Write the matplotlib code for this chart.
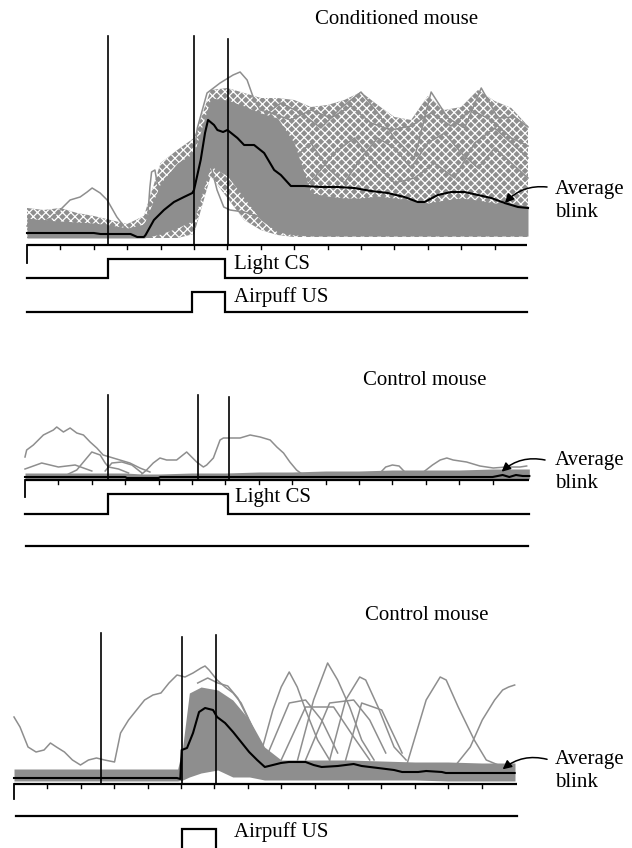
import matplotlib
matplotlib.use('Agg')
import matplotlib.pyplot as plt

W, H = 632, 848
PX = 33.4           # pixels per time bin
GRAY = '#8e8e8e'

plt.rcParams['font.family'] = ['Liberation Serif', 'DejaVu Serif']
plt.rcParams['font.size'] = 15
plt.rcParams['hatch.linewidth'] = 0.9

# ---------------- conditioned mouse ----------------
c_grid = [0, 0.5, 1, 1.5, 2, 2.5, 3, 3.5, 4, 4.5, 5, 5.5, 6, 6.5, 7, 7.5,
          8, 8.5, 9, 9.5, 10, 10.5, 11, 11.5, 12, 12.5, 13, 13.5, 14, 14.5, 15]
c_env_lo = [0, 0, 0, 0, 0, 0, 0, 0, 0, 0, 4, 62, 40, 18, 8, 3,
            1, 1, 1, 1, 1, 1, 1, 1, 1, 1, 1, 1, 1, 1, 1]
c_env_hi = [30, 28, 30, 25, 22, 18, 14, 22, 75, 88, 100, 148, 150, 145, 140, 140,
            138, 131, 133, 138, 146, 133, 121, 118, 142, 128, 131, 148, 137, 130, 112]
c_core_lo = [0, 0, 0, 0, 0, 0, 0, 0, 4, 10, 18, 72, 62, 40, 18, 6,
             3, 2, 2, 2, 2, 2, 2, 2, 2, 2, 2, 2, 2, 2, 2]
c_core_hi = [20, 18, 17, 16, 15, 13, 10, 14, 55, 75, 85, 140, 138, 132, 125, 120,
             95, 45, 42, 40, 40, 42, 40, 38, 35, 38, 40, 38, 35, 35, 32]

c_traces = [
    ([0, 0.4, 0.78, 1.29, 1.59, 1.8, 1.95, 2.19, 2.4, 2.69, 2.99, 3.23],
     [12, 15, 21, 38, 41, 46, 50, 45, 38, 21, 8, 4]),
    ([3.4, 3.58, 3.68, 3.73, 3.83, 3.88, 4.0, 4.3],
     [2, 5, 51, 66, 68, 58, 40, 35]),
    ([4.6, 4.9, 5.1, 5.39, 5.78, 6.17, 6.38, 6.59, 6.77, 6.98, 7.3],
     [40, 60, 110, 145, 155, 163, 166, 158, 141, 128, 125]),
    ([4.8, 5.1, 5.39, 5.54, 5.69, 5.89, 6.08, 6.5, 6.9, 7.4],
     [30, 70, 91, 68, 48, 31, 28, 26, 22, 10]),
    ([7, 7.6, 8.2, 8.8, 9.4, 10, 10.5, 11, 11.6, 12.1, 12.6, 13.1, 13.6, 14.1, 14.6, 15],
     [120, 135, 125, 110, 130, 146, 125, 100, 80, 146, 120, 110, 150, 120, 121, 111]),
    ([7.5, 8, 8.5, 9, 9.5, 10, 10.5, 11, 11.5, 12, 12.5, 13, 13.5, 14, 14.5, 15],
     [60, 80, 95, 70, 55, 80, 100, 90, 70, 95, 105, 85, 70, 90, 75, 60]),
    ([8, 8.6, 9.2, 9.8, 10.4, 11, 11.6, 12.2, 12.8, 13.4, 14, 14.5, 15],
     [40, 60, 85, 100, 75, 55, 60, 75, 60, 95, 110, 95, 80]),
    ([7.3, 7.9, 8.5, 9.1, 9.7, 10.3, 10.9, 11.5, 12.1, 12.7, 13.3, 13.9, 14.5, 15],
     [125, 118, 128, 120, 132, 115, 108, 112, 125, 112, 128, 118, 100, 92]),
]
c_avg_t = [0, 2.0, 2.2, 3.1, 3.3, 3.5, 3.55, 3.8, 4.1, 4.4, 4.7, 4.95, 5.0, 5.2, 5.33,
           5.42, 5.6, 5.7, 5.87, 6.0, 6.3, 6.5, 6.8, 7.1, 7.4, 7.6, 7.9, 8.3, 8.8,
           9.3, 9.8, 10.3, 10.8, 11.3, 11.7, 11.9, 12.3, 12.7, 13.1, 13.5, 13.9,
           14.3, 14.7, 15.0]
c_avg = [5, 5, 4, 4, 1, 1, 3, 18, 28, 36, 41, 45, 48, 78, 105,
         118, 113, 108, 106, 108, 100, 93, 93, 85, 68, 63, 52, 52, 51,
         51, 50, 47, 45, 41, 36, 36, 43, 46, 46, 43, 40,
         35, 31, 30]

# ---------------- control mouse, light CS only ----------------
l_grid = [0, 1, 2, 3, 3.5, 4, 5, 6, 7, 8, 9, 10, 11, 12, 13, 14, 15.1]
l_core_lo = [-2, -2, -2, -2, -3, -3, -2, -2, -2, -2, -2, -2, -2, -2, -2, -2, -2]
l_core_hi = [4, 4, 4, 4, 3, 3, 4, 4, 5, 5, 6, 6, 7, 7, 7, 8, 8]
l_traces = [
    ([0, 0.05, 0.25, 0.55, 0.85, 0.95, 1.15, 1.35, 1.55, 1.75, 1.95, 2.15, 2.34,
      2.54, 2.84, 3.14, 3.44, 3.74],
     [20, 27, 32, 42, 47, 50, 45, 49, 44, 42, 35, 29, 22, 20, 17, 14, 9, 5]),
    ([1.3, 1.55, 1.85, 2.0, 2.25, 2.4, 2.5, 2.8, 3.1],
     [3, 7, 19, 25, 22, 14, 10, 8, 4]),
    ([2.4, 2.6, 2.9, 3.2, 3.5], [6, 14, 15, 12, 4]),
    ([3.5, 3.64, 3.84, 4.04, 4.24, 4.54, 4.84, 4.99, 5.14, 5.34, 5.44, 5.64, 5.84,
      5.94, 6.14, 6.44, 6.74, 7.04, 7.34, 7.54, 7.74, 7.93, 8.13, 8.33],
     [3, 7, 14, 19, 17, 17, 25, 20, 15, 10, 12, 19, 37,
      39, 39, 39, 42, 40, 37, 30, 24, 15, 7, 2]),
    ([0, 0.5, 1.0, 1.5, 2.0], [8, 14, 10, 12, 6]),
    ([10.6, 10.8, 11.0, 11.2, 11.4], [3, 10, 12, 11, 4]),
    ([11.7, 11.93, 12.2, 12.43, 12.63, 12.82, 13.22, 13.62, 14.02, 14.42, 14.82, 15.02],
     [3, 5, 12, 17, 19, 17, 15, 11, 9, 10, 10, 11]),
]
l_avg_t = [0, 3.0, 3.05, 4.0, 4.05, 8, 10, 12, 14, 14.3, 14.5, 14.7, 14.9, 15.1]
l_avg = [0, 0, -1, -1, 0, 0, 0, 0, 0, 2, 0, 2, 1, 1]

# ---------------- control mouse, airpuff US only ----------------
p_grid = [0, 1, 2, 3, 4, 4.9, 5.05, 5.25, 5.6, 6.1, 6.55, 7.05, 7.5, 8, 9, 10,
          11, 12, 13, 14, 15]
p_core_lo = [-3, -3, -3, -3, -3, -3, -2, 1, 5, 8, 1, 1, -2, -2, -2, -2,
             -2, -2, -3, -3, -3]
p_core_hi = [9, 9, 9, 9, 9, 9, 31, 85, 91, 88, 78, 58, 31, 18, 18, 18,
             17, 16, 16, 15, 15]
p_traces = [
    ([0, 0.18, 0.42, 0.66, 0.9, 1.09, 1.27, 1.51, 1.75, 1.99, 2.23, 2.47, 2.71,
      3.01, 3.19, 3.43, 3.67, 3.91, 4.16, 4.4, 4.64, 4.88, 5.12, 5.36, 5.6,
      5.72, 5.84, 6.08, 6.32, 6.56, 6.8, 7.04, 7.4, 7.75],
     [61, 51, 31, 26, 28, 35, 31, 26, 18, 13, 18, 20, 18,
      16, 45, 58, 68, 78, 83, 85, 95, 103, 101, 105, 110,
      112, 108, 98, 91, 85, 75, 58, 31, 11]),
    ([7.28, 7.75, 8.0, 8.24, 8.48, 8.73, 9.09, 9.45],
     [11, 68, 91, 106, 91, 68, 38, 18]),
    ([8.49, 8.97, 9.39, 9.69, 10.05, 10.41, 10.78],
     [18, 78, 115, 98, 71, 38, 18]),
    ([9.45, 9.93, 10.35, 10.53, 10.9, 11.38, 11.74],
     [18, 78, 101, 98, 71, 31, 18]),
    ([11.74, 12.34, 12.76, 12.94, 13.3, 13.78, 14.14, 14.5],
     [11, 78, 101, 98, 71, 38, 18, 13]),
    ([13.18, 13.66, 14.02, 14.39, 14.63, 14.81, 14.99],
     [11, 31, 58, 78, 88, 91, 93]),
    ([7.52, 8.24, 8.73, 9.21, 9.69], [18, 75, 78, 58, 25]),
    ([8.73, 9.45, 10.17, 10.65, 11.13], [18, 75, 78, 58, 25]),
    ([9.93, 10.41, 11.01, 11.62], [18, 75, 68, 25]),
    ([8.0, 8.73, 9.57, 10.17, 10.65], [18, 71, 71, 41, 18]),
    ([5.5, 5.8, 6.1, 6.4, 6.7, 7.0], [95, 100, 95, 92, 80, 60]),
]
p_avg_t = [0, 4.88, 4.98, 5.02, 5.18, 5.36, 5.54, 5.72, 5.96, 6.08, 6.32, 6.56, 6.8,
           7.04, 7.28, 7.51, 7.75, 7.99, 8.23, 8.73, 8.97, 9.21, 9.69, 10.17,
           10.41, 10.9, 11.38, 11.62, 12.1, 12.34, 12.81, 12.93, 14.99]
p_avg = [0, 0, -1, 28, 30, 45, 66, 70, 68, 61, 55, 46, 36,
         26, 18, 11, 13, 15, 16, 16, 13, 11, 12, 14,
         12, 10, 8, 6, 6, 7, 6, 5, 5]

# stimulus timing (time bins)
c_cs = (2.42, 5.93)
c_us = (4.93, 5.93)
l_cs = (2.49, 6.09)
p_us = (5.02, 6.05)


def panel_axes(fig, top, bottom, x0, base):
    # one data unit vertically equals one pixel; x in time bins
    ax = fig.add_axes([0, 1 - bottom / H, 1, (bottom - top) / H])
    ax.set_xlim(-x0 / PX, (W - x0) / PX)
    ax.set_ylim(base - bottom, base - top)
    ax.axis('off')
    return ax


def draw_axis(ax, t_end, tick_h, stub_h):
    ax.plot([0, t_end], [tick_h, tick_h], color='k', lw=1.6, solid_capstyle='butt')
    for k in range(1, 15):
        ax.plot([k, k], [tick_h, tick_h - 4], color='k', lw=1.0)
    ax.plot([0, 0], [tick_h, stub_h], color='k', lw=1.3)


def draw_step(ax, t_end, lo, hi, onoff, t_start=0):
    if onoff is None:
        ax.plot([t_start, t_end], [lo, lo], color='k', lw=1.6)
        return
    on, off = onoff
    ax.plot([t_start, on, on, off, off, t_end], [lo, lo, hi, hi, lo, lo],
            color='k', lw=1.6, solid_joinstyle='miter')


def draw_events(ax, times, tops, bottom):
    for t, top in zip(times, tops):
        ax.plot([t, t], [bottom, top], color='k', lw=1.2)


def draw_mass(ax, t, lo, hi, dense=True):
    # grey mass of overlapping single-trial traces; the looser part is meshed
    if dense:
        ax.fill_between(t, lo, hi, color=GRAY, lw=0)
    else:
        ax.fill_between(t, lo, hi, facecolor=GRAY, edgecolor='white',
                        hatch='xxxx', lw=0)


def draw_traces(ax, traces):
    for tt, hh in traces:
        ax.plot(tt, hh, color=GRAY, lw=1.1)


def label_avg(ax, head, tail, text_xy):
    ax.annotate('', xy=head, xytext=tail,
                arrowprops=dict(arrowstyle='-|>', connectionstyle='arc3,rad=0.25',
                                color='k', lw=1.1, mutation_scale=13,
                                shrinkA=0, shrinkB=0))
    fig.text(text_xy[0] / W, 1 - text_xy[1] / H, 'Average\nblink',
             ha='left', va='center', linespacing=1.35)


fig = plt.figure(figsize=(W / 100, H / 100), dpi=100)

# panel 1: conditioned mouse
ax = panel_axes(fig, 0, 330, 27, 238)
draw_mass(ax, c_grid, c_env_lo, c_env_hi, dense=False)
draw_mass(ax, c_grid, c_core_lo, c_core_hi)
draw_traces(ax, c_traces)
ax.plot(c_avg_t, c_avg, color='k', lw=1.5)
draw_events(ax, [2.43, 5.0, 6.03], [202, 202, 199], -7)
draw_axis(ax, 14.97, -7, -25)
draw_step(ax, 14.97, -40, -21, c_cs)
draw_step(ax, 14.97, -74, -54, c_us)
label_avg(ax, (14.31, 35), (15.57, 51), (555, 201))
fig.text(397 / W, 1 - 20 / H, 'Conditioned mouse', ha='center', va='center')
fig.text(234 / W, 1 - 265 / H, 'Light CS', ha='left', va='center')
fig.text(234 / W, 1 - 297 / H, 'Airpuff US', ha='left', va='center')

# panel 2: control mouse, light only
ax = panel_axes(fig, 330, 560, 25, 477)
draw_mass(ax, l_grid, l_core_lo, l_core_hi)
draw_traces(ax, l_traces)
ax.plot(l_avg_t, l_avg, color='k', lw=1.5)
draw_events(ax, [2.49, 5.19, 6.12], [82, 82, 80], -3)
draw_axis(ax, 15.1, -3, -20)
draw_step(ax, 15.1, -37, -17.3, l_cs)
draw_step(ax, 15.06, -68.7, -68.7, None, t_start=0.04)
label_avg(ax, (14.27, 5.3), (15.57, 17), (555, 472))
fig.text(425 / W, 1 - 380 / H, 'Control mouse', ha='center', va='center')
fig.text(235 / W, 1 - 497 / H, 'Light CS', ha='left', va='center')

# panel 3: control mouse, airpuff only
ax = panel_axes(fig, 560, 848, 14, 778)
draw_mass(ax, p_grid, p_core_lo, p_core_hi)
draw_traces(ax, p_traces)
ax.plot(p_avg_t, p_avg, color='k', lw=1.5)
draw_events(ax, [2.59, 5.02, 6.04], [145, 141, 143], -6)
draw_axis(ax, 15.05, -6, -21)
draw_step(ax, 15.05, -37.7, -37.7, None, t_start=0.06)
draw_step(ax, 15.05, -90, -51.3, p_us)
label_avg(ax, (14.63, 8.7), (15.96, 18.7), (555, 771))
fig.text(427 / W, 1 - 615 / H, 'Control mouse', ha='center', va='center')
fig.text(234 / W, 1 - 832 / H, 'Airpuff US', ha='left', va='center')

fig.savefig('out.png', dpi=100)
